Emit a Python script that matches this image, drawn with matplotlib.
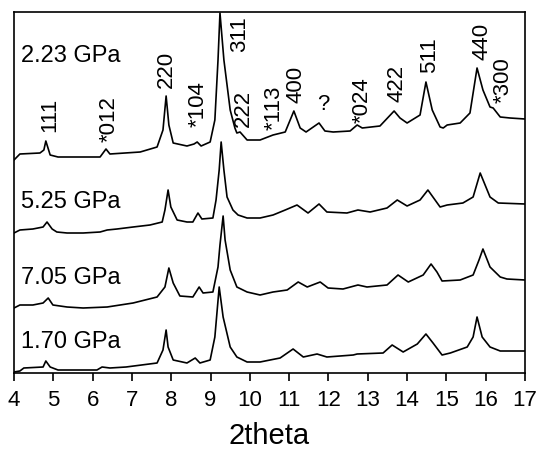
import matplotlib
matplotlib.use("Agg")
import matplotlib.pyplot as plt
import numpy as np

plt.rcParams['font.family'] = ['Liberation Sans', 'DejaVu Sans']

# pressures, top to bottom
pressures = ['2.23 GPa', '5.25 GPa', '7.05 GPa', '1.70 GPa']
offsets = [254, 169, 93, 22]

# 2theta / intensity (a.u., relative to the flat high-angle end)
tt_223 = [4.00, 4.15, 4.66, 4.76, 4.81, 4.92, 5.12, 5.76, 6.19, 6.34, 6.44, 7.21, 7.64, 7.79, 7.87,
          7.94, 8.05, 8.40, 8.58, 8.66, 8.76, 8.99, 9.11, 9.19, 9.24, 9.34, 9.50, 9.62, 9.67, 9.75,
          9.93, 10.26, 10.59, 10.90, 11.12, 11.28, 11.43, 11.76, 11.91, 12.12, 12.55, 12.73, 12.86,
          13.31, 13.67, 13.82, 14.00, 14.33, 14.48, 14.64, 14.84, 14.92, 15.02, 15.35, 15.60, 15.78,
          15.93, 16.11, 16.19, 16.37, 16.62, 17.00]
I_223 = [-41, -35, -34, -31, -22, -36, -38, -38, -38, -30, -35, -33, -28, -11, 23,
         -6, -24, -27, -25, -23, -27, -23, -1, 59, 106, 59, 9, -9, -14, -13,
         -21, -21, -16, -13, 8, -9, -13, -4, -12, -13, -12, -6, -9,
         -7, 8, 1, -4, 4, 37, 9, -8, -9, -6, -4, 6, 51,
         29, 12, 11, 2, 1, 0]

tt_525 = [4.00, 4.15, 4.48, 4.74, 4.84, 4.97, 5.09, 5.35, 5.76, 6.19, 6.37, 6.62, 7.03, 7.46, 7.77,
          7.84, 7.92, 7.99, 8.15, 8.40, 8.55, 8.68, 8.78, 9.06, 9.14, 9.22, 9.27, 9.34, 9.42, 9.57,
          9.70, 9.93, 10.26, 10.59, 10.90, 11.20, 11.48, 11.76, 11.96, 12.47, 12.75, 13.06, 13.49,
          13.75, 14.00, 14.33, 14.53, 14.84, 15.02, 15.42, 15.68, 15.86, 16.11, 16.32, 17.00]
I_525 = [-29, -26, -25, -23, -18, -25, -28, -29, -29, -28, -26, -25, -23, -21, -18,
         -6, 14, -3, -16, -18, -18, -9, -15, -14, 4, 34, 62, 34, 7, -6,
         -11, -14, -14, -11, -6, -1, -9, 0, -8, -9, -6, -8, -4,
         4, -2, 4, 14, -3, -1, 1, 7, 31, 7, 1, 0]

tt_705 = [4.00, 4.15, 4.48, 4.74, 4.87, 4.99, 5.35, 5.76, 6.37, 7.03, 7.64, 7.84, 7.94, 8.05, 8.22,
          8.55, 8.71, 8.81, 9.06, 9.19, 9.24, 9.32, 9.37, 9.50, 9.67, 9.93, 10.26, 10.59, 10.95,
          11.23, 11.46, 11.79, 11.99, 12.37, 12.75, 12.98, 13.49, 13.77, 14.03, 14.41, 14.61, 14.76,
          14.89, 15.35, 15.68, 15.83, 15.93, 16.11, 16.37, 16.54, 17.00]
I_705 = [-28, -25, -25, -23, -18, -25, -27, -28, -27, -23, -17, -7, 12, -3, -16,
         -17, -7, -13, -12, 13, 35, 64, 40, 10, -7, -12, -15, -12, -10,
         -2, -7, -2, -8, -9, -5, -7, -5, 5, -2, 5, 16, 8,
         -1, 0, 5, 20, 31, 13, 3, 1, 0]

tt_170 = [4.00, 4.15, 4.25, 4.74, 4.81, 4.92, 5.12, 6.11, 6.24, 6.44, 6.85, 7.64, 7.79, 7.87, 7.92,
          8.05, 8.40, 8.61, 8.73, 8.99, 9.11, 9.22, 9.32, 9.50, 9.67, 9.93, 10.26, 10.77, 11.10,
          11.36, 11.71, 11.96, 12.63, 12.73, 13.39, 13.62, 13.90, 14.26, 14.48, 14.66, 14.89, 15.10,
          15.53, 15.68, 15.78, 15.91, 16.11, 16.37, 17.00]
I_170 = [-21, -20, -17, -16, -10, -16, -19, -19, -16, -17, -16, -12, 1, 21, 4,
         -9, -12, -7, -12, -9, 14, 64, 34, 4, -6, -11, -11, -7, 2,
         -6, -3, -6, -4, -3, -2, 6, -1, 7, 17, 8, -4, -2,
         4, 14, 34, 14, 4, 0, 0]

traces = [(tt_223, I_223), (tt_525, I_525), (tt_705, I_705), (tt_170, I_170)]

# reflection labels on the top pattern
peak_names = ['111', '*012', '220', '*104', '311', '222', '*113', '400', '?', '*024', '422', '511', '440', '*300']
peak_tt = [4.92, 6.42, 7.87, 8.68, 9.73, 9.83, 10.62, 11.18, 11.86, 12.85, 13.75, 14.56, 15.91, 16.44]
peak_lab_y = [241, 231, 285, 246, 321, 246, 243, 270, 258, 250, 271, 300, 313, 270]

fig = plt.figure(figsize=(5.36, 4.5), dpi=100)
ax = fig.add_axes([14 / 536, 77 / 450, 511 / 536, 361 / 450])

for (tt, I), off in zip(traces, offsets):
    ax.plot(tt, np.array(I) + off, color='black', linewidth=1.2)

for name, x, y in zip(peak_names, peak_tt, peak_lab_y):
    rot = 0 if name == '?' else 90
    ax.text(x, y, name, rotation=rot, ha='center', va='bottom', fontsize=16)

for p, off in zip(pressures, [317, 171, 95, 31]):
    ax.text(4.18, off, p, ha='left', va='center', fontsize=17)

ax.set_xlim(4, 17)
ax.set_ylim(0, 361)
ax.set_xticks(range(4, 18))
ax.set_yticks([])
ax.tick_params(axis='x', direction='out', length=6, width=1.2, labelsize=16, pad=6)
for s in ax.spines.values():
    s.set_linewidth(1.2)
ax.set_xlabel('2theta', fontsize=21, labelpad=8)

fig.savefig('out.png', dpi=100)
